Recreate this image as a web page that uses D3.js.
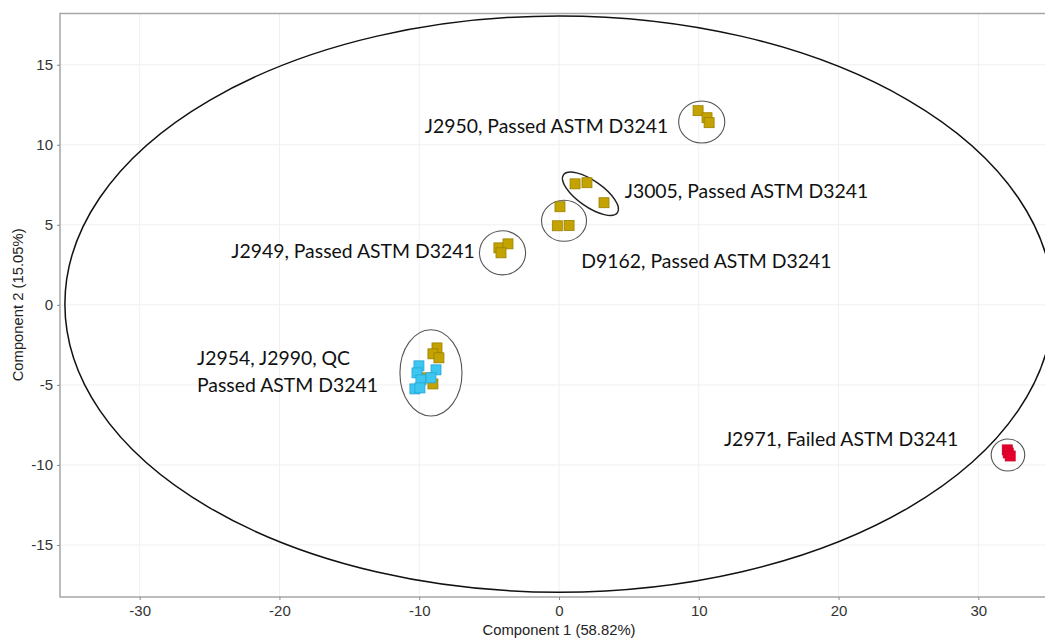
<!DOCTYPE html>
<html>
<head>
<meta charset="utf-8">
<script src="https://cdn.jsdelivr.net/npm/d3@7"></script>
<style>
  html, body { margin: 0; padding: 0; background: #fff; }
  svg { display: block; }
</style>
</head>
<body>
<svg id="chart" width="1045" height="638"></svg>
<script>
// PCA scores (Component 1, Component 2) per sample group
const goldX = [9.95, 10.59, 10.74, 1.15, 2.0, 3.22, 0.07, -0.12, 0.72, -4.3, -3.65, -4.15,
               -8.73, -9.02, -8.59, -9.45, -9.02];
const goldY = [12.13, 11.69, 11.38, 7.56, 7.63, 6.38, 6.13, 4.94, 4.96, 3.56, 3.81, 3.25,
               -2.69, -3.06, -3.31, -4.56, -4.94];
const qcX = [-10.02, -10.16, -9.88, -8.80, -9.16, -10.31, -9.95];
const qcY = [-3.81, -4.25, -4.69, -4.06, -4.56, -5.25, -5.19];
const failX = [32.07, 32.14, 32.28];
const failY = [-9.06, -9.25, -9.44];

// Hotelling T2 ellipse (centre, semi-axes)
const t2Ellipse = [0, 0.05, 35.35, 18.0];

// Group ellipses: centre x, centre y, semi-axis x, semi-axis y, rotation (deg)
const groupCx = [10.21, 2.25, 0.36, -4.04, -9.16, 32.12];
const groupCy = [11.42, 6.94, 5.25, 3.25, -4.25, -9.38];
const groupRx = [1.65, 2.36, 1.61, 1.65, 2.22, 1.2];
const groupRy = [1.31, 0.81, 1.28, 1.38, 2.69, 1.0];
const groupRot = [0, 35, 0, 0, 0, 0];

// Group annotations
const labelText = [
  ["J2950, Passed ASTM D3241"],
  ["J3005, Passed ASTM D3241"],
  ["J2949, Passed ASTM D3241"],
  ["D9162, Passed ASTM D3241"],
  ["J2954, J2990, QC", "Passed ASTM D3241"],
  ["J2971, Failed ASTM D3241"]
];
const labelX = [-9.6, 4.7, -23.45, 1.6, -25.9, 11.8];
const labelY = [10.75, 6.65, 2.95, 2.3, -3.75, -8.8];

const xTicks = [-30, -20, -10, 0, 10, 20, 30];
const yTicks = [-15, -10, -5, 0, 5, 10, 15];

const svg = d3.select("#chart");
const pLeft = 60, pTop = 13.5, pRight = 1058, pBottom = 597;

const x = d3.scaleLinear().domain([-35.7, 35.7]).range([pLeft, pRight]);
const y = d3.scaleLinear().domain([-18.25, 18.2]).range([pBottom, pTop]);

// grid
const grid = svg.append("g");
grid.selectAll(".gx").data(xTicks).join("line")
  .attr("x1", d => x(d)).attr("x2", d => x(d))
  .attr("y1", pTop).attr("y2", pBottom)
  .attr("stroke", "#f0f0f0").attr("stroke-width", 1);
grid.selectAll(".gy").data(yTicks).join("line")
  .attr("x1", pLeft).attr("x2", pRight)
  .attr("y1", d => y(d)).attr("y2", d => y(d))
  .attr("stroke", "#f0f0f0").attr("stroke-width", 1);

// T2 ellipse
svg.append("ellipse")
  .attr("cx", x(t2Ellipse[0])).attr("cy", y(t2Ellipse[1]))
  .attr("rx", x(t2Ellipse[2]) - x(0)).attr("ry", y(0) - y(t2Ellipse[3]))
  .attr("fill", "none").attr("stroke", "#111").attr("stroke-width", 1.5);

// group ellipses
groupCx.forEach((cx, i) => {
  const px = x(cx), py = y(groupCy[i]);
  svg.append("ellipse")
    .attr("cx", px).attr("cy", py)
    .attr("rx", x(groupRx[i]) - x(0)).attr("ry", y(0) - y(groupRy[i]))
    .attr("transform", `rotate(${groupRot[i]},${px},${py})`)
    .attr("fill", "none")
    .attr("stroke", i === 1 ? "#222" : "#555")
    .attr("stroke-width", i === 1 ? 1.5 : 1.1);
});

// points
function drawSquares(xs, ys, fill, stroke) {
  const pts = xs.map((v, i) => [v, ys[i]]);
  svg.append("g").selectAll("rect").data(pts).join("rect")
    .attr("x", d => x(d[0]) - 5).attr("y", d => y(d[1]) - 5)
    .attr("width", 10).attr("height", 10)
    .attr("fill", fill).attr("stroke", stroke).attr("stroke-width", 0.8);
}
drawSquares(goldX, goldY, "#C4A300", "#9A8000");
drawSquares(qcX, qcY, "#3CC6F0", "#22A6D8");
drawSquares(failX, failY, "#E8002C", "#C60024");

// panel border (top, left, bottom)
svg.append("path")
  .attr("d", `M${pRight},${pTop}H${pLeft}V${pBottom}H${pRight}`)
  .attr("fill", "none").attr("stroke", "#a6a6a6").attr("stroke-width", 1.5);

// axes (plain hyphen for negative tick labels)
const fmt = d => String(d);
const xAxis = svg.append("g").attr("transform", `translate(0,${pBottom})`)
  .call(d3.axisBottom(x).tickValues(xTicks).tickFormat(fmt).tickSize(3).tickSizeOuter(0).tickPadding(5));
const yAxis = svg.append("g").attr("transform", `translate(${pLeft},0)`)
  .call(d3.axisLeft(y).tickValues(yTicks).tickFormat(fmt).tickSize(3).tickSizeOuter(0).tickPadding(4));
[xAxis, yAxis].forEach(g => {
  g.select(".domain").remove();
  g.selectAll(".tick line").attr("stroke", "#888");
  g.selectAll(".tick text")
    .attr("font-family", "Liberation Sans, Arial, sans-serif")
    .attr("font-size", 15).attr("fill", "#333");
});

// axis titles
svg.append("text")
  .attr("x", x(0)).attr("y", 635)
  .attr("text-anchor", "middle")
  .attr("font-family", "Liberation Sans, Arial, sans-serif")
  .attr("font-size", 14.8).attr("fill", "#222")
  .text("Component 1 (58.82%)");
svg.append("text")
  .attr("transform", `translate(23,${y(0)}) rotate(-90)`)
  .attr("text-anchor", "middle")
  .attr("font-family", "Liberation Sans, Arial, sans-serif")
  .attr("font-size", 14.8).attr("fill", "#222")
  .text("Component 2 (15.05%)");

// annotations
labelText.forEach((lines, i) => {
  const t = svg.append("text")
    .attr("x", x(labelX[i])).attr("y", y(labelY[i]))
    .attr("font-family", "Lato, 'Open Sans', sans-serif")
    .attr("font-size", 19.4).attr("fill", "#111");
  lines.forEach((s, j) => {
    t.append("tspan").attr("x", x(labelX[i])).attr("dy", j === 0 ? 0 : 27).text(s);
  });
});
</script>
</body>
</html>
